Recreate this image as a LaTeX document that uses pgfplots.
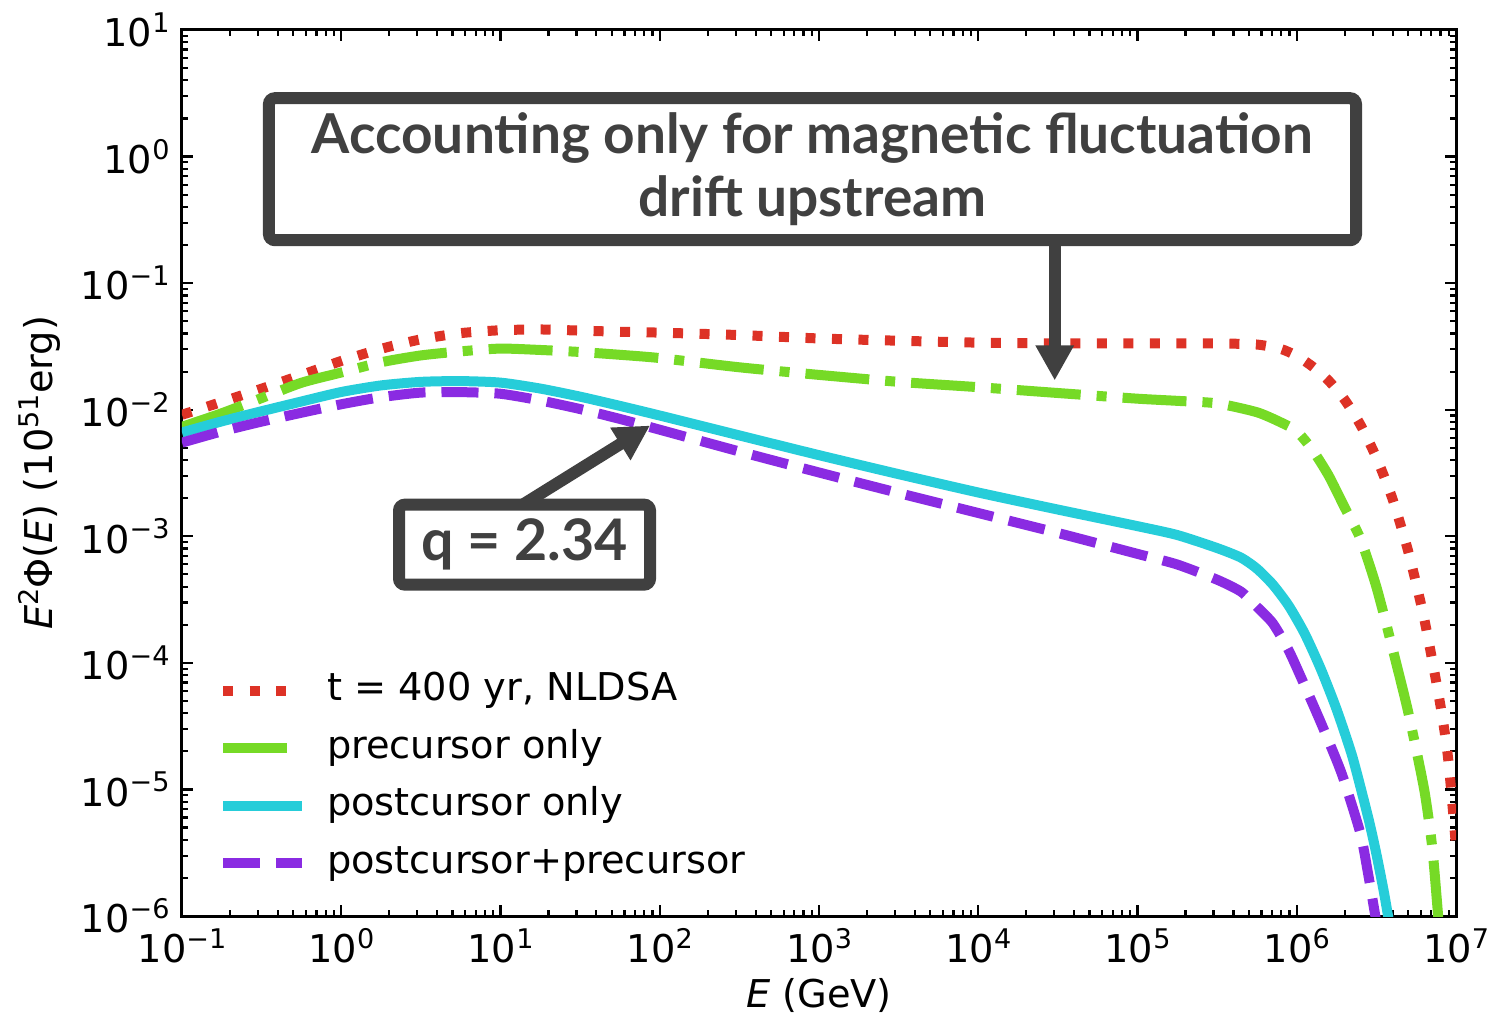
\documentclass[border=0pt]{standalone}
\usepackage{pgfplots}
\usepackage{pgfplotstable}
\pgfplotsset{compat=1.18}
\usepackage{fontspec}
\setmainfont{DejaVu Sans}
\newfontfamily\boxfont{Lato}
\usetikzlibrary{arrows.meta}

\definecolor{nldsa}{RGB}{221,50,38}
\definecolor{precur}{RGB}{118,218,38}
\definecolor{postcur}{RGB}{38,205,217}
\definecolor{both}{RGB}{138,43,226}
\definecolor{boxgray}{RGB}{64,64,64}

\newcommand{\sups}[1]{\raisebox{4.1pt}{\fontsize{7.7pt}{8pt}\selectfont #1}}
\newcommand{\pw}[1]{10\sups{#1}}
\newcommand{\labfont}{\fontsize{10.9pt}{13pt}\selectfont}

% E (GeV)  and  E^2 Phi(E) (10^51 erg)
\pgfplotstableread{
E        F
0.1      9.12e-3
0.1778   1.153e-2
0.3162   1.466e-2
0.5623   1.879e-2
1        2.427e-2
1.778    3.027e-2
3.162    3.597e-2
5.623    4.027e-2
10       4.246e-2
17.78    4.305e-2
31.62    4.217e-2
56.23    4.130e-2
100      4.064e-2
316.2    3.890e-2
1000     3.656e-2
3162     3.508e-2
1e4      3.388e-2
3.162e4  3.342e-2
1e5      3.342e-2
1.778e5  3.342e-2
3.162e5  3.342e-2
5.623e5  3.273e-2
7.943e5  3.020e-2
1e6      2.661e-2
1.259e6  2.188e-2
1.585e6  1.698e-2
1.995e6  1.202e-2
2.512e6  7.586e-3
3.162e6  4.188e-3
3.981e6  1.995e-3
5.012e6  7.586e-4
6.310e6  2.239e-4
7.943e6  4.786e-5
8.913e6  1.778e-5
1e7      3.548e-6
}\nldsatab

\pgfplotstableread{
E        F
0.1      7.328e-3
0.1778   9.376e-3
0.3162   1.236e-2
0.5623   1.633e-2
1        1.968e-2
1.778    2.371e-2
3.162    2.685e-2
5.623    2.891e-2
10       3.041e-2
17.78    2.965e-2
31.62    2.858e-2
56.23    2.716e-2
100      2.559e-2
316.2    2.163e-2
1000     1.884e-2
3162     1.660e-2
1e4      1.507e-2
3.162e4  1.355e-2
1e5      1.222e-2
1.778e5  1.175e-2
3.162e5  1.122e-2
5.623e5  9.550e-3
7.943e5  7.943e-3
1e6      6.761e-3
1.259e6  4.786e-3
1.585e6  3.020e-3
1.995e6  1.698e-3
2.512e6  9.550e-4
3.162e6  3.981e-4
3.981e6  1.318e-4
5.012e6  4.074e-5
6.310e6  1.000e-5
7.079e6  3.548e-6
7.586e6  1.318e-6
7.943e6  6.310e-7
}\precurtab

\pgfplotstableread{
E        F
0.1      6.607e-3
0.1778   8.091e-3
0.3162   9.727e-3
0.5623   1.161e-2
1        1.380e-2
1.778    1.556e-2
3.162    1.660e-2
5.623    1.683e-2
10       1.637e-2
17.78    1.469e-2
31.62    1.268e-2
56.23    1.072e-2
100      8.995e-3
316.2    6.266e-3
1000     4.375e-3
3162     3.097e-3
1e4      2.218e-3
3.162e4  1.626e-3
1e5      1.202e-3
1.778e5  1.023e-3
3.162e5  8.072e-4
4.467e5  6.780e-4
5.623e5  5.546e-4
7.079e5  4.150e-4
8.913e5  2.820e-4
1.122e6  1.700e-4
1.413e6  9.000e-5
1.778e6  4.300e-5
2.239e6  1.800e-5
2.818e6  5.900e-6
3.162e6  3.090e-6
3.548e6  1.479e-6
3.981e6  6.310e-7
}\postcurtab

\pgfplotstableread{
E        F
0.1      5.495e-3
0.1778   6.745e-3
0.3162   8.054e-3
0.5623   9.462e-3
1        1.104e-2
1.778    1.256e-2
3.162    1.365e-2
5.623    1.377e-2
10       1.337e-2
17.78    1.183e-2
31.62    1.012e-2
56.23    8.453e-3
100      6.950e-3
316.2    4.677e-3
1000     3.192e-3
3162     2.198e-3
1e4      1.528e-3
3.162e4  1.062e-3
1e5      7.261e-4
1.778e5  5.984e-4
3.162e5  4.539e-4
4.467e5  3.650e-4
5.623e5  2.773e-4
7.079e5  2.050e-4
8.913e5  1.250e-4
1.122e6  6.600e-5
1.413e6  3.400e-5
1.778e6  1.700e-5
1.995e6  1.148e-5
2.512e6  4.467e-6
2.818e6  2.089e-6
3.162e6  8.913e-7
}\bothtab

\begin{document}
\begin{tikzpicture}
\path[use as bounding box] (-18.2mm,-9.8mm) rectangle (132.9mm,91.6mm);
\begin{axis}[
  at={(0,0)}, anchor=south west,
  scale only axis, width=127.4mm, height=88.6mm,
  xmode=log, ymode=log,
  xmin=1e-1, xmax=1e7, ymin=1e-6, ymax=1e1,
  xtick={1e-1,1,1e1,1e2,1e3,1e4,1e5,1e6,1e7},
  xticklabels={\pw{−1},\pw{0},\pw{1},\pw{2},\pw{3},\pw{4},\pw{5},\pw{6},\pw{7}},
  ytick={1e-6,1e-5,1e-4,1e-3,1e-2,1e-1,1,1e1},
  yticklabels={\pw{−6},\pw{−5},\pw{−4},\pw{−3},\pw{−2},\pw{−1},\pw{0},\pw{1}},
  minor xtick={0.2,0.3,0.4,0.5,0.6,0.7,0.8,0.9,2,3,4,5,6,7,8,9,20,30,40,50,60,70,80,90,200,300,400,500,600,700,800,900,2e3,3e3,4e3,5e3,6e3,7e3,8e3,9e3,2e4,3e4,4e4,5e4,6e4,7e4,8e4,9e4,2e5,3e5,4e5,5e5,6e5,7e5,8e5,9e5,2e6,3e6,4e6,5e6,6e6,7e6,8e6,9e6},
  minor ytick={2e-6,3e-6,4e-6,5e-6,6e-6,7e-6,8e-6,9e-6,2e-5,3e-5,4e-5,5e-5,6e-5,7e-5,8e-5,9e-5,2e-4,3e-4,4e-4,5e-4,6e-4,7e-4,8e-4,9e-4,2e-3,3e-3,4e-3,5e-3,6e-3,7e-3,8e-3,9e-3,0.02,0.03,0.04,0.05,0.06,0.07,0.08,0.09,0.2,0.3,0.4,0.5,0.6,0.7,0.8,0.9,2,3,4,5,6,7,8,9},
  tick align=inside,
  major tick length=1.1mm, minor tick length=0.6mm,
  every tick/.style={black, line width=0.22mm},
  axis line style={line width=0.3mm},
  tick label style={font=\labfont},
  label style={font=\labfont},
  xlabel={\textit{E} (GeV)},
  ylabel={\textit{E}\sups{2}Φ(\textit{E}) (10\sups{51}erg)},
  xlabel style={at={(axis description cs:0.5,-0.1038)}, anchor=base},
  ylabel style={at={(axis description cs:-0.1013,0.5)}, anchor=base},
  legend style={
    at={(axis description cs:0.0283,0.2754)}, anchor=north west,
    draw=none, fill=none, inner sep=0pt, outer sep=0pt,
    row sep=1.95mm,
    nodes={inner sep=0pt, text height=2.9mm, text depth=0.9mm},
    /tikz/every odd column/.append style={column sep=2.0mm},
    font=\labfont,
  },
  legend cell align=left,
  legend image code/.code={\draw[#1] (0mm,0mm) -- (7.9mm,0mm);},
]
\addplot[nldsa, line width=1mm, dash pattern=on 1mm off 1.65mm, smooth, tension=0.4]
  table[x=E, y=F] {\nldsatab};
\addlegendentry{t = 400 yr, NLDSA}
\addplot[precur, line width=1mm, dash pattern=on 6.4mm off 1.6mm on 1mm off 1.6mm, smooth, tension=0.4]
  table[x=E, y=F] {\precurtab};
\addlegendentry{precursor only}
\addplot[postcur, line width=1mm, smooth, tension=0.4]
  table[x=E, y=F] {\postcurtab};
\addlegendentry{postcursor only}
\addplot[both, line width=1mm, dash pattern=on 3.7mm off 1.6mm, smooth, tension=0.4]
  table[x=E, y=F] {\bothtab};
\addlegendentry{postcursor+precursor}

% callouts
\draw[boxgray, line width=1.2mm, -{Triangle[length=3.5mm, width=3.6mm]}]
  (axis cs:3.02e4,0.218) -- (axis cs:3.02e4,0.01702);
\draw[boxgray, line width=1.2mm, -{Triangle[length=3.5mm, width=3.6mm]}]
  (axis cs:13.8,1.778e-3) -- (axis cs:86.9,7.5e-3);
\node[draw=boxgray, line width=1.2mm, rounded corners=0.6mm, fill=white,
      minimum width=108.7mm, minimum height=14.2mm, inner sep=0pt,
      align=center, text=boxgray,
      font=\boxfont\bfseries\fontsize{15.65pt}{17.9pt}\selectfont]
  at (axis cs:910,0.795) {Accounting only for magnetic fluctuation\\drift upstream};
\node[draw=boxgray, line width=1.2mm, rounded corners=0.6mm, fill=white,
      minimum width=25.1mm, minimum height=8.0mm, inner sep=0pt,
      text=boxgray,
      font=\boxfont\bfseries\fontsize{16.3pt}{18pt}\selectfont]
  at (axis cs:14.15,8.59e-4) {q = 2.34};
\end{axis}
\end{tikzpicture}
\end{document}
